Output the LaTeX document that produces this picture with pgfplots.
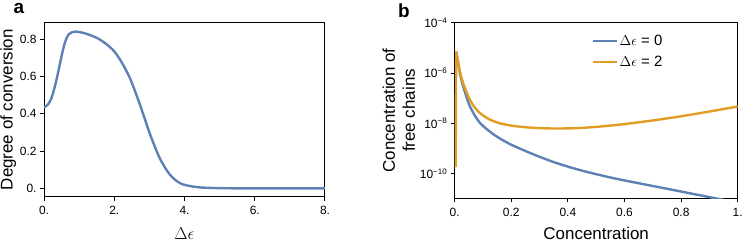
\documentclass[border=0pt]{standalone}
\usepackage{pgfplots}
\pgfplotsset{compat=1.18}
\usepackage{fontspec}
\setmainfont{Liberation Sans}
\definecolor{mblue}{HTML}{5E81B5}
\definecolor{morange}{HTML}{E19C24}
\pgfplotsset{
  common/.style={
    scale only axis,
    anchor=south west,
    axis line style={line width=1bp},
    tick style={line width=1bp, black},
    major tick length=4bp,
    tick align=outside,
    xtick pos=bottom, ytick pos=left,
    tick label style={font=\fontsize{12}{13}\selectfont},
    label style={font=\fontsize{17}{20}\selectfont},
    xticklabel shift=2bp,
    /pgf/number format/assume math mode=true,
  }
}
\begin{document}
\begin{tikzpicture}
\path[use as bounding box] (0,0) rectangle (744bp,243bp);
% panel a
\begin{axis}[common,
  at={(44bp,46.3bp)}, width=281bp, height=174bp,
  xmin=0, xmax=8, ymin=-0.045, ymax=0.889,
  xtick={0,2,4,6,8}, xticklabels={0.,2.,4.,6.,8.},
  ytick={0,0.2,0.4,0.6,0.8}, yticklabels={0.,0.2,0.4,0.6,0.8},
  xlabel={$\Delta\epsilon$},
  xlabel shift=6bp,
  ylabel={Degree of conversion},
  ylabel shift=-3bp,
]
\addplot[mblue, line width=2.4bp, smooth, tension=0.5] coordinates {
(0,0.435) (0.1,0.447) (0.2,0.478) (0.3,0.54) (0.4,0.62) (0.5,0.71) (0.6,0.785)
(0.7,0.826) (0.8,0.838) (0.93,0.841) (1.1,0.835) (1.31,0.823) (1.55,0.803)
(1.79,0.772) (2.0,0.735) (2.2,0.68) (2.45,0.59) (2.73,0.45) (3.02,0.29)
(3.3,0.16) (3.59,0.072) (3.87,0.028) (4.16,0.012) (4.5,0.004) (5,0.001)
(5.5,0) (8,0)};
\end{axis}
\node[font=\bfseries\fontsize{19}{20}\selectfont] at (19bp,234bp) {a};
% panel b
\begin{axis}[common,
  at={(454.7bp,44.7bp)}, width=283bp, height=175.6bp,
  xmin=0, xmax=1, ymode=log, ymin=1.05e-11, ymax=1e-4,
  xtick={0,0.2,0.4,0.6,0.8,1}, xticklabels={0.,0.2,0.4,0.6,0.8,1.},
  ytick={1e-10,1e-8,1e-6,1e-4},
  yticklabels={10\textsuperscript{−10},10\textsuperscript{−8},10\textsuperscript{−6},10\textsuperscript{−4}},
  yminorticks=false,
  xlabel={Concentration},
  xlabel shift=4bp,
  ylabel={Concentration of\\free chains},
  ylabel style={align=center},
  ylabel shift=-2bp,
  legend style={at={(0.752,0.955)}, anchor=north east, draw=none, fill=none,
    font=\fontsize{15}{17}\selectfont, row sep=5pt},
  legend cell align=left,
  legend image code/.code={\draw[#1, line width=1.8bp] (0bp,0bp) -- (24bp,0bp);},
]
\addplot[mblue, line width=2.4bp, smooth, tension=0.4] coordinates {
(0.0055,7.08e-6) (0.009,3.98e-6) (0.012,2.51e-6) (0.0176,1.07e-6) (0.025,4.68e-7)
(0.035,1.91e-7) (0.045,8.71e-8) (0.053,4.90e-8) (0.07,2.14e-8) (0.089,1.05e-8)
(0.11,6.31e-9) (0.14,3.47e-9) (0.17,2.14e-9) (0.2,1.41e-9) (0.25,7.94e-10)
(0.3,4.68e-10) (0.35,2.88e-10) (0.4,1.91e-10) (0.45,1.32e-10) (0.5,9.55e-11)
(0.55,7.08e-11) (0.6,5.37e-11) (0.7,3.24e-11) (0.8,1.95e-11) (0.9,1.17e-11)
(0.95,9.12e-12)};
\addlegendentry{$\Delta\epsilon$ = 0}
\addplot[morange, line width=2.4bp, smooth, tension=0.4] coordinates {
(0.0055,7.08e-6) (0.009,4.17e-6) (0.012,2.75e-6) (0.0176,1.26e-6) (0.025,6.03e-7)
(0.035,2.69e-7) (0.053,8.91e-8) (0.07,4.37e-8) (0.088,2.63e-8) (0.11,1.74e-8)
(0.13,1.32e-8) (0.16,1.0e-8) (0.2,8.13e-9) (0.25,7.0e-9) (0.3,6.46e-9)
(0.35,6.24e-9) (0.4,6.31e-9) (0.45,6.61e-9) (0.5,7.24e-9) (0.55,8.13e-9)
(0.6,9.33e-9) (0.65,1.10e-8) (0.7,1.30e-8) (0.8,1.91e-8) (0.9,2.95e-8)
(1.0,4.68e-8)};
\addlegendentry{$\Delta\epsilon$ = 2}
\addplot[morange, line width=2.4bp, forget plot] coordinates {
(0.0035,1.82e-10) (0.0045,3e-7) (0.0055,7.08e-6)};
\end{axis}
\node[font=\bfseries\fontsize{19}{20}\selectfont] at (404bp,232bp) {b};
\end{tikzpicture}
\end{document}
